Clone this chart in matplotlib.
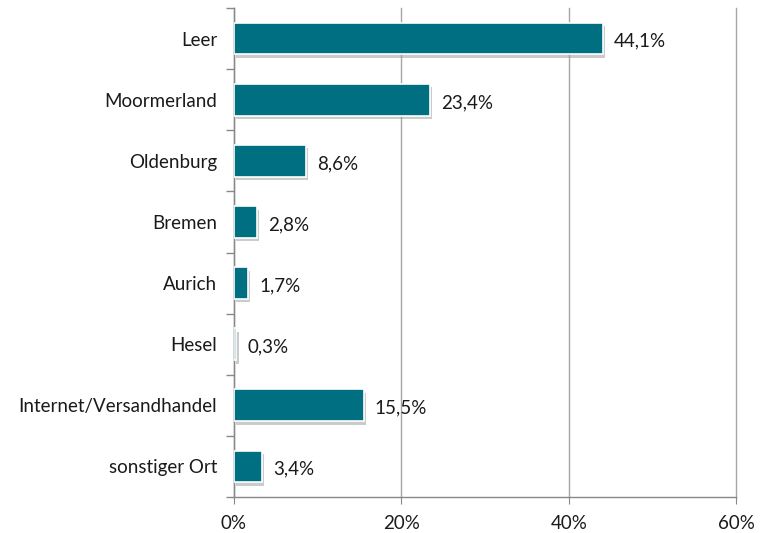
import numpy as np
import matplotlib
matplotlib.use('Agg')
import matplotlib.pyplot as plt
import matplotlib.patheffects as pe
from matplotlib.ticker import FixedLocator, FuncFormatter

categories = ['Leer', 'Moormerland', 'Oldenburg', 'Bremen', 'Aurich', 'Hesel',
              'Internet/Versandhandel', 'sonstiger Ort']
values = [44.1, 23.4, 8.6, 2.8, 1.7, 0.3, 15.5, 3.4]
value_labels = ['44,1%', '23,4%', '8,6%', '2,8%', '1,7%', '0,3%', '15,5%', '3,4%']
xticks = [0, 20, 40, 60]

plt.rcParams['font.family'] = ['Lato', 'DejaVu Sans']

fig = plt.figure(figsize=(7.62, 5.33), dpi=100)
ax = fig.add_axes([0.307, 0.0675, 0.659, 0.9175])

y = np.arange(len(categories))
bars = ax.barh(y, values, height=0.52, color='#006F82', edgecolor='white', linewidth=1.2, zorder=3)
for b in bars:
    b.set_path_effects([pe.SimplePatchShadow(offset=(1.5, -2.5), shadow_rgbFace='#999999', alpha=0.5),
                        pe.Normal()])

for yi, v, lab in zip(y, values, value_labels):
    ax.annotate(lab, (v, yi), xytext=(8, -2), textcoords='offset points',
                va='center', ha='left', fontsize=13.5, color='#1a1a1a')

ax.set_xlim(0, 60)
ax.set_ylim(len(categories) - 0.5, -0.5)
ax.xaxis.set_major_locator(FixedLocator(xticks))
ax.xaxis.set_major_formatter(FuncFormatter(lambda v, p: f'{v:.0f}%'))
ax.set_yticks(y)
ax.set_yticklabels(categories, fontsize=13.5, color='#1a1a1a')
ax.yaxis.set_minor_locator(FixedLocator(np.arange(-0.5, len(categories), 1)))
ax.tick_params(axis='y', which='major', length=0, pad=12)
ax.tick_params(axis='y', which='minor', length=6, color='#888888', width=1)
ax.tick_params(axis='x', length=5, color='#888888', labelsize=13.5, labelcolor='#1a1a1a', pad=8)

ax.grid(axis='x', color='#a6a6a6', linewidth=1, zorder=0)
for gl in ax.get_xgridlines():
    gl.set_clip_on(False)
for s in ['top', 'right']:
    ax.spines[s].set_visible(False)
for s in ['left', 'bottom']:
    ax.spines[s].set_color('#888888')
    ax.spines[s].set_linewidth(1)

fig.savefig('out.png', dpi=100)
